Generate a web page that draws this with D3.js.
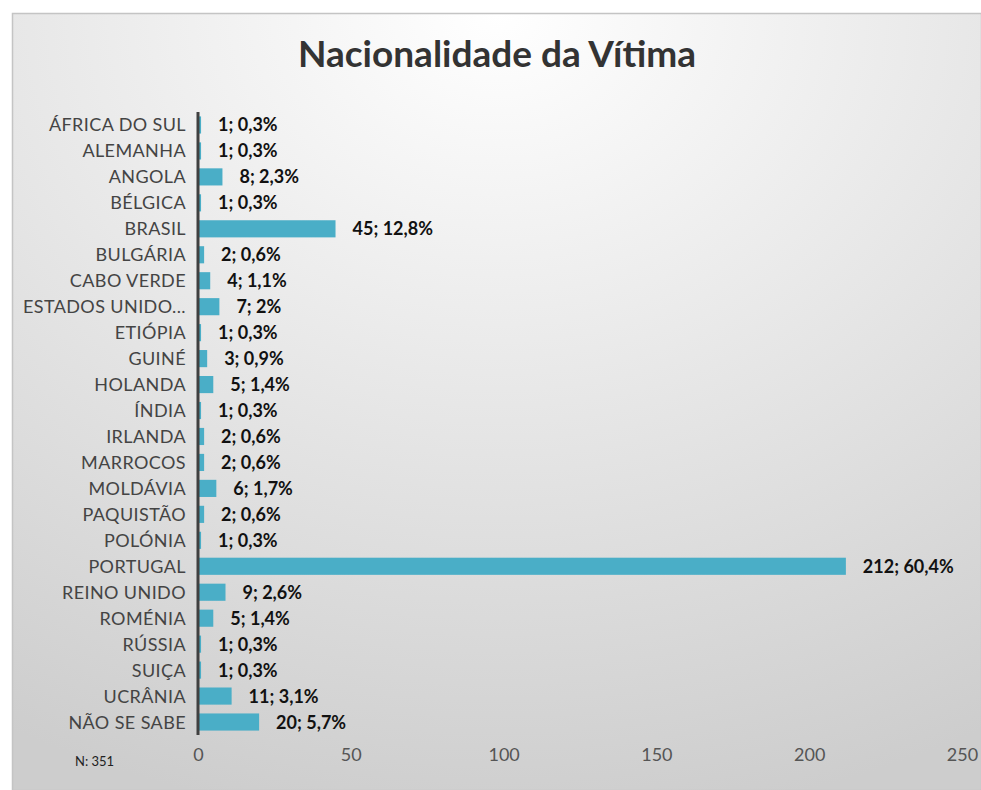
<!DOCTYPE html>
<html>
<head>
<meta charset="utf-8">
<script src="https://cdn.jsdelivr.net/npm/d3@7"></script>
<style>
  body { margin: 0; background: #fff; }
  svg { display: block; }
</style>
</head>
<body>
<div id="chart"></div>
<script>
const countries = ['ÁFRICA DO SUL', 'ALEMANHA', 'ANGOLA', 'BÉLGICA', 'BRASIL', 'BULGÁRIA',
  'CABO VERDE', 'ESTADOS UNIDO...', 'ETIÓPIA', 'GUINÉ', 'HOLANDA', 'ÍNDIA', 'IRLANDA',
  'MARROCOS', 'MOLDÁVIA', 'PAQUISTÃO', 'POLÓNIA', 'PORTUGAL', 'REINO UNIDO', 'ROMÉNIA',
  'RÚSSIA', 'SUIÇA', 'UCRÂNIA', 'NÃO SE SABE'];
const counts = [1, 1, 8, 1, 45, 2, 4, 7, 1, 3, 5, 1, 2, 2, 6, 2, 1, 212, 9, 5, 1, 1, 11, 20];
const percents = ['0,3%', '0,3%', '2,3%', '0,3%', '12,8%', '0,6%', '1,1%', '2%', '0,3%', '0,9%',
  '1,4%', '0,3%', '0,6%', '0,6%', '1,7%', '0,6%', '0,3%', '60,4%', '2,6%', '1,4%', '0,3%',
  '0,3%', '3,1%', '5,7%'];
const xTicks = [0, 50, 100, 150, 200, 250];
const total = 351;

const width = 981, height = 790;
const margin = {top: 112, left: 198, right: 18, bottom: 55};

const svg = d3.select('#chart').append('svg')
    .attr('width', width)
    .attr('height', height);

// background panel with soft radial shading
const defs = svg.append('defs');
const grad = defs.append('radialGradient')
    .attr('id', 'bg')
    .attr('cx', '50%').attr('cy', '0%')
    .attr('r', '105%');
grad.append('stop').attr('offset', '0%').attr('stop-color', '#ffffff');
grad.append('stop').attr('offset', '100%').attr('stop-color', '#cdcdcd');

svg.append('rect')
    .attr('x', 12.5).attr('y', 13.5)
    .attr('width', width - 12).attr('height', height - 13)
    .attr('fill', 'url(#bg)')
    .attr('stroke', '#c4c4c4')
    .attr('stroke-width', 1.5);

svg.append('text')
    .attr('x', 497).attr('y', 67)
    .attr('text-anchor', 'middle')
    .attr('font-family', 'Lato, sans-serif')
    .attr('font-weight', 'bold')
    .attr('font-size', 37)
    .attr('fill', '#333')
    .text('Nacionalidade da Vítima');

const x = d3.scaleLinear().domain([0, 250]).range([margin.left, 962]);
const y = d3.scaleBand().domain(countries)
    .range([margin.top, 735])
    .paddingInner(0.34)
    .paddingOuter(0.17);

const rows = countries.map((c, i) => ({name: c, value: counts[i], pct: percents[i]}));

svg.append('g')
    .selectAll('rect')
    .data(rows)
    .enter()
    .append('rect')
    .attr('x', x(0))
    .attr('y', (d) => y(d.name))
    .attr('width', (d) => x(d.value) - x(0))
    .attr('height', y.bandwidth())
    .attr('fill', '#4aaec7');

// category labels
svg.append('g')
    .selectAll('text')
    .data(rows)
    .enter()
    .append('text')
    .attr('x', margin.left - 12)
    .attr('y', (d) => y(d.name) + y.bandwidth() / 2)
    .attr('dy', '0.36em')
    .attr('text-anchor', 'end')
    .attr('font-family', 'Lato, sans-serif')
    .attr('font-size', 18)
    .attr('letter-spacing', 0.4)
    .attr('fill', '#444')
    .text((d) => d.name);

// value labels
svg.append('g')
    .selectAll('text')
    .data(rows)
    .enter()
    .append('text')
    .attr('x', (d) => x(d.value) + 17)
    .attr('y', (d) => y(d.name) + y.bandwidth() / 2)
    .attr('dy', '0.36em')
    .attr('font-family', 'Lato, sans-serif')
    .attr('font-weight', 'bold')
    .attr('font-size', 18)
    .attr('fill', '#111')
    .text((d) => d.value + '; ' + d.pct);

// x axis tick labels
const xAxis = svg.append('g')
    .attr('transform', 'translate(0,' + 748 + ')')
    .call(d3.axisBottom(x).tickValues(xTicks).tickSize(0).tickPadding(0));
xAxis.select('.domain').remove();
xAxis.selectAll('text')
    .attr('font-family', 'Lato, sans-serif')
    .attr('font-size', 18)
    .attr('fill', '#555')
    .attr('dy', '0.72em');

// vertical category axis line
svg.append('line')
    .attr('x1', x(0)).attr('x2', x(0))
    .attr('y1', margin.top).attr('y2', 735)
    .attr('stroke', '#404040')
    .attr('stroke-width', 3);

svg.append('text')
    .attr('x', 75).attr('y', 766)
    .attr('font-family', 'Lato, sans-serif')
    .attr('font-size', 13)
    .attr('fill', '#222')
    .text('N: ' + total);
</script>
</body>
</html>
